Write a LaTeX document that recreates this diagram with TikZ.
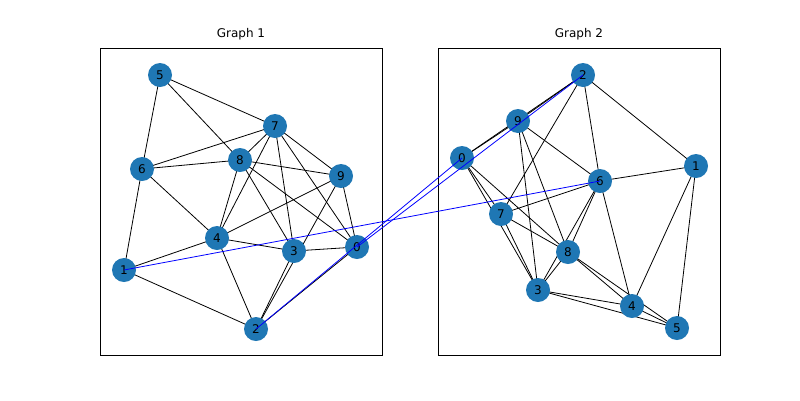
\documentclass[tikz,border=0pt]{standalone}
\usepackage{fontspec}
\setmainfont{DejaVu Sans}
\definecolor{nb}{HTML}{1F77B4}
\begin{document}
\begin{tikzpicture}[x=1pt,y=-1pt,
 vx/.style={circle,fill=nb,minimum size=24pt,inner sep=0pt,font=\fontsize{12}{14}\selectfont},
 ed/.style={black,line width=0.8pt},
 be/.style={blue,line width=0.8pt},
 fr/.style={draw=black,line width=0.8pt}]
\useasboundingbox (0,0) rectangle (800,400);
\draw[fr] (100,48) rectangle (382,355);
\draw[fr] (438,48) rectangle (720,355);
\node[font=\fontsize{12}{14}\selectfont] (t1) at (241,34) {Graph 1};
\node[font=\fontsize{12}{14}\selectfont] (t2) at (579,34) {Graph 2};
% graph 1
\node[vx] (a5) at (160,75) {5};
\node[vx] (a7) at (275,126) {7};
\node[vx] (a6) at (142,169) {6};
\node[vx] (a8) at (240,160) {8};
\node[vx] (a9) at (341,176) {9};
\node[vx] (a4) at (217,238) {4};
\node[vx] (a3) at (294,251) {3};
\node[vx] (a0) at (357,247) {0};
\node[vx] (a1) at (124,270) {1};
\node[vx] (a2) at (256,329) {2};
% graph 2
\node[vx] (b2) at (583,75) {2};
\node[vx] (b9) at (518,121) {9};
\node[vx] (b0) at (462,158) {0};
\node[vx] (b1) at (696,166) {1};
\node[vx] (b6) at (600,181) {6};
\node[vx] (b7) at (501,214) {7};
\node[vx] (b8) at (568,252) {8};
\node[vx] (b3) at (538,290) {3};
\node[vx] (b4) at (632,306) {4};
\node[vx] (b5) at (677,328) {5};
\begin{scope}[on background layer/.style={}]
\end{scope}
\pgfdeclarelayer{bg}\pgfsetlayers{bg,main}
\begin{pgfonlayer}{bg}
\foreach \u/\v in {5/7,5/8,5/6,6/7,6/8,6/4,6/1,7/8,7/4,7/3,7/9,7/0,8/9,8/4,8/3,8/0,9/4,9/0,9/2,4/3,4/1,4/2,3/0,3/2,0/2,1/2}
 \draw[ed] (a\u.center) -- (a\v.center);
\foreach \u/\v in {0/2,0/9,9/2,2/7,2/6,2/1,9/6,9/3,9/8,0/7,0/3,0/8,7/6,7/8,7/3,6/1,6/8,6/3,6/4,1/4,1/5,8/3,8/4,8/5,3/4,3/5,4/5}
 \draw[ed] (b\u.center) -- (b\v.center);
\end{pgfonlayer}
\draw[be] (a1.center) -- (b6.center);
\draw[be] (a2.center) -- (b0.center);
\draw[be] (a0.center) -- (b2.center);
\end{tikzpicture}
\end{document}
